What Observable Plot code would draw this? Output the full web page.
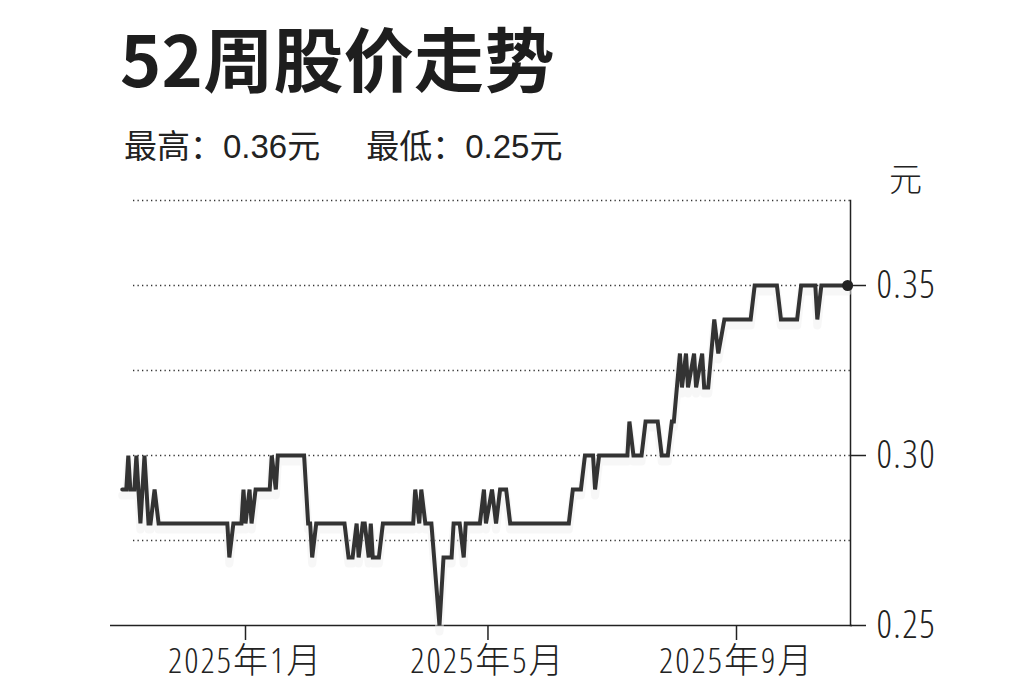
<!DOCTYPE html>
<html>
<head>
<meta charset="utf-8">
<script src="https://cdn.jsdelivr.net/npm/d3@7"></script>
<script src="https://cdn.jsdelivr.net/npm/@observablehq/plot@0.6"></script>
<style>
  html, body { margin: 0; padding: 0; background: #fff; }
  #wrap { position: relative; width: 1023px; height: 682px; overflow: hidden; background: #fff; }
  #title { position: absolute; left: 120px; top: 22px; font-family: "Noto Sans CJK SC", "Liberation Sans", sans-serif; font-weight: 700; font-size: 70px; line-height: 1; color: #1e1e1e; white-space: nowrap; letter-spacing: 0.3px; }
  #subtitle { position: absolute; left: 124px; top: 130px; font-family: "Liberation Sans", "Noto Sans CJK SC", sans-serif; font-size: 33px; line-height: 1; color: #222; white-space: nowrap; }
  #unit { position: absolute; left: 889px; top: 161px; font-family: "Noto Sans CJK SC", sans-serif; font-weight: 300; font-size: 33px; line-height: 1; color: #222; }
  #chart { position: absolute; left: 0; top: 160px; }
  #chart svg text { font-stretch: 75%; font-weight: 300; }
  #chart svg g[aria-label="y-axis tick label"] text { letter-spacing: 1.4px; }
  #chart svg g[aria-label="x-axis tick label"] text { letter-spacing: 2px; }
</style>
</head>
<body>
<div id="wrap">
  <div id="title">52周股价走势</div>
  <div id="subtitle">最高：0.36元<span style="display:inline-block;width:46px"></span>最低：0.25元</div>
  <div id="unit">元</div>
  <div id="chart"></div>
</div>
<script>
const dates = [
  "2024-11-01","2024-11-03","2024-11-04","2024-11-05","2024-11-07","2024-11-08","2024-11-10","2024-11-12",
  "2024-11-14","2024-11-15","2024-11-17","2024-11-19","2024-12-23","2024-12-24","2024-12-26","2024-12-30",
  "2024-12-31","2025-01-01","2025-01-03","2025-01-04","2025-01-06","2025-01-13","2025-01-14","2025-01-16",
  "2025-01-17","2025-01-30","2025-02-01","2025-02-02","2025-02-03","2025-02-05","2025-02-19","2025-02-21",
  "2025-02-23","2025-02-25","2025-02-26","2025-02-28","2025-03-01","2025-03-03","2025-03-04","2025-03-05",
  "2025-03-08","2025-03-10","2025-03-25","2025-03-26","2025-03-28","2025-03-29","2025-03-31","2025-04-03",
  "2025-04-07","2025-04-09","2025-04-13","2025-04-14","2025-04-17","2025-04-19","2025-04-20","2025-04-27",
  "2025-04-29","2025-04-30","2025-05-03","2025-05-05","2025-05-07","2025-05-10","2025-05-12","2025-06-10",
  "2025-06-12","2025-06-16","2025-06-18","2025-06-22","2025-06-23","2025-06-25","2025-07-09","2025-07-10",
  "2025-07-12","2025-07-16","2025-07-18","2025-07-24","2025-07-26","2025-07-29","2025-07-31","2025-08-01",
  "2025-08-04","2025-08-05","2025-08-07","2025-08-08","2025-08-11","2025-08-12","2025-08-15","2025-08-16",
  "2025-08-18","2025-08-21","2025-08-23","2025-08-26","2025-09-08","2025-09-10","2025-09-21","2025-09-23",
  "2025-10-01","2025-10-03","2025-10-10","2025-10-11","2025-10-13","2025-10-26"
];
const prices = [
  0.29,0.29,0.30,0.29,0.29,0.30,0.28,0.30,
  0.28,0.28,0.29,0.28,0.28,0.27,0.28,0.28,
  0.29,0.28,0.29,0.28,0.29,0.29,0.30,0.29,
  0.30,0.30,0.28,0.28,0.27,0.28,0.28,0.27,
  0.27,0.28,0.27,0.28,0.28,0.27,0.28,0.27,
  0.27,0.28,0.28,0.29,0.28,0.29,0.28,0.28,
  0.25,0.27,0.27,0.28,0.28,0.27,0.28,0.28,
  0.29,0.28,0.29,0.28,0.29,0.29,0.28,0.28,
  0.29,0.29,0.30,0.30,0.29,0.30,0.30,0.31,
  0.30,0.30,0.31,0.31,0.30,0.30,0.31,0.31,
  0.33,0.32,0.33,0.32,0.33,0.32,0.33,0.32,
  0.32,0.34,0.33,0.34,0.34,0.35,0.35,0.34,
  0.34,0.35,0.35,0.34,0.35,0.35
];
const yTickValues = [0.25, 0.30, 0.35];
const gridValues = [0.275, 0.30, 0.325, 0.35, 0.375];
const xTickDates = ["2025-01-01", "2025-05-01", "2025-09-01"];
const xTickLabels = ["2025年1月", "2025年5月", "2025年9月"];
const yDomain = [0.25, 0.375];

const data = dates.map((d, i) => ({date: new Date(d), price: prices[i]}));
const xTicks = xTickDates.map(d => new Date(d));
const labelFor = new Map(xTicks.map((d, i) => [+d, xTickLabels[i]]));

const tickFont = '"Open Sans", "Noto Sans CJK SC", sans-serif';

const chart = Plot.plot({
  width: 1023,
  height: 522,
  marginTop: 40,
  marginBottom: 57,
  marginLeft: 133,
  marginRight: 173,
  style: {background: "transparent", color: "#222", overflow: "visible"},
  x: {type: "utc", domain: [xTicks[0], xTicks[2]], range: [245, 736]},
  y: {domain: yDomain},
  marks: [
    Plot.gridY(gridValues, {stroke: "#333", strokeOpacity: 1, strokeWidth: 1.3, strokeDasharray: "1.3,3.2"}),
    Plot.ruleY([yDomain[0]], {stroke: "#222", strokeWidth: 1.5, insetLeft: -23, insetRight: -2}),
    Plot.frame({anchor: "right", stroke: "#222", strokeWidth: 1.5}),
    Plot.axisY(yTickValues, {anchor: "right", tickSize: 15, tickPadding: 11, tickFormat: d3.format(".2f"),
      fontSize: 38, fontFamily: tickFont, label: null, strokeWidth: 1.5}),
    Plot.axisX(xTicks, {anchor: "bottom", tickSize: 15, tickPadding: 8, tickFormat: d => labelFor.get(+d),
      fontSize: 35, fontFamily: tickFont, label: null, strokeWidth: 1.5}),
    Plot.line(data, {x: "date", y: "price", stroke: "#f0f0f0", strokeWidth: 8, dy: 6, strokeOpacity: 0.5}),
    Plot.line(data, {x: "date", y: "price", stroke: "#333", strokeWidth: 4, strokeLinejoin: "miter", strokeMiterlimit: 3}),
    Plot.dot(data, Plot.selectLast({x: "date", y: "price", r: 5.5, fill: "#222", stroke: "none"}))
  ]
});
document.getElementById("chart").appendChild(chart);
</script>
</body>
</html>
